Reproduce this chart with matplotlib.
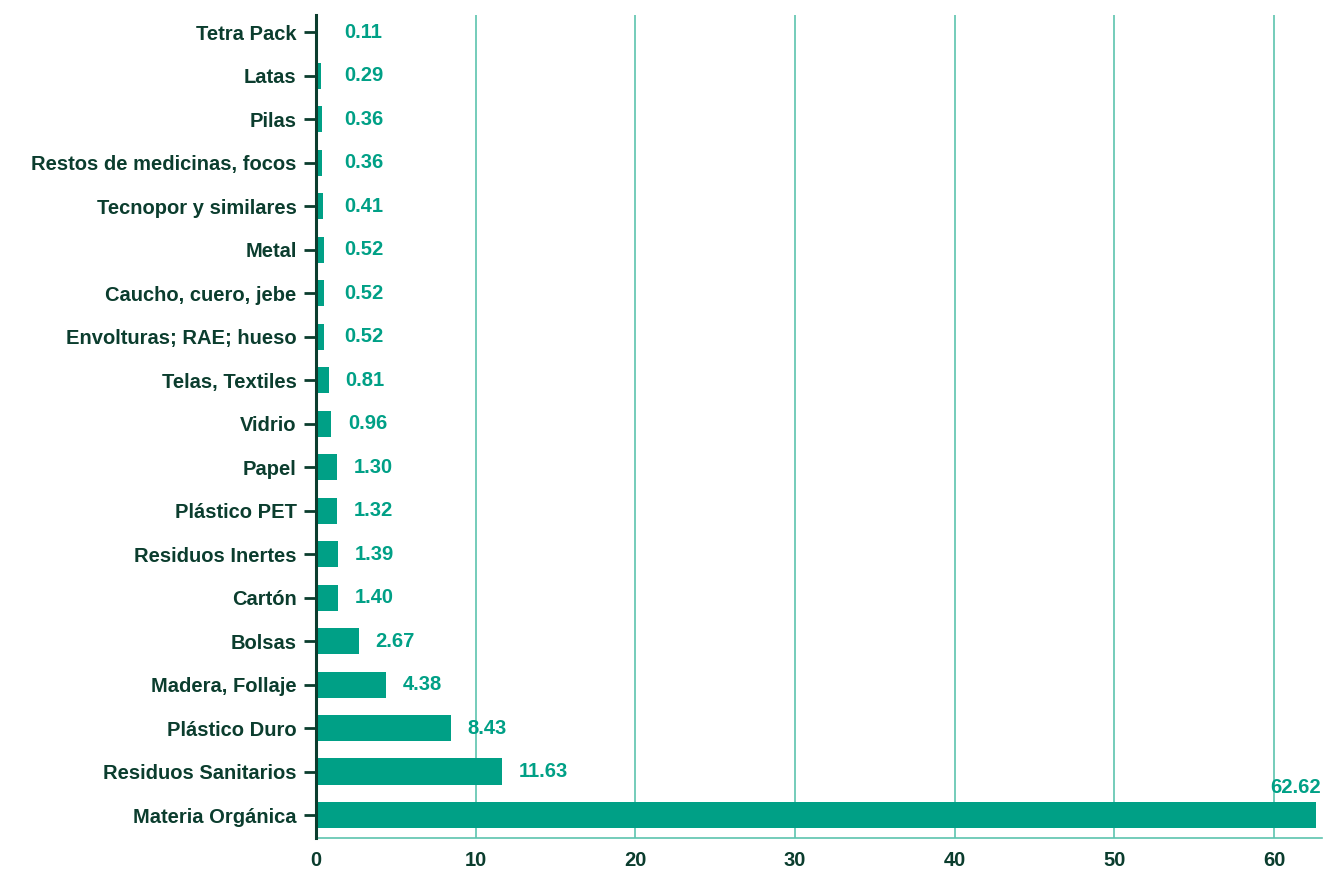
import matplotlib
matplotlib.use("Agg")
import matplotlib.pyplot as plt
import numpy as np

# datos (de abajo hacia arriba)
categorias = [
    "Materia Orgánica", "Residuos Sanitarios", "Plástico Duro", "Madera, Follaje",
    "Bolsas", "Cartón", "Residuos Inertes", "Plástico PET", "Papel", "Vidrio",
    "Telas, Textiles", "Envolturas; RAE; hueso", "Caucho, cuero, jebe", "Metal",
    "Tecnopor y similares", "Restos de medicinas, focos", "Pilas", "Latas", "Tetra Pack",
]
valores = [62.62, 11.63, 8.43, 4.38, 2.67, 1.40, 1.39, 1.32, 1.30, 0.96,
           0.81, 0.52, 0.52, 0.52, 0.41, 0.36, 0.36, 0.29, 0.11]
xticks = [0, 10, 20, 30, 40, 50, 60]

BAR = "#00a086"
DARK = "#0b3d2e"
GRID = "#5cc4ae"
FS = 14.5

plt.rcParams["font.family"] = ["Liberation Sans", "DejaVu Sans"]

fig = plt.figure(figsize=(13.28, 8.73), dpi=100)
ax = fig.add_axes([0.238, 0.04, 0.7575, 0.943])

y = np.arange(len(categorias))
ax.barh(y, valores, height=0.6, color=BAR, zorder=3)

ax.set_xlim(0, 63.0)
ax.set_ylim(-0.53, len(categorias) - 0.6)
ax.set_xticks(xticks)
ax.set_yticks(y)
ax.set_yticklabels(categorias, fontsize=FS, fontweight="bold", color=DARK)
ax.set_xticklabels([str(t) for t in xticks], fontsize=FS, fontweight="bold", color=DARK)
ax.tick_params(axis="y", length=9, width=2, color=DARK, pad=5)
ax.tick_params(axis="x", length=0, pad=9)

ax.grid(axis="x", color=GRID, linewidth=1.2, zorder=0)
for s in ["top", "right"]:
    ax.spines[s].set_visible(False)
ax.spines["left"].set_color(DARK)
ax.spines["left"].set_linewidth(2.2)
ax.spines["left"].set_zorder(4)
ax.spines["bottom"].set_color(GRID)
ax.spines["bottom"].set_linewidth(1.2)

for yi, v in zip(y, valores):
    if v > 60:
        ax.annotate(f"{v:.2f}", (ax.get_xlim()[1], yi), xytext=(-1, 20),
                    textcoords="offset points", ha="right", va="center",
                    fontsize=FS, fontweight="bold", color=BAR)
    else:
        ax.annotate(f"{v:.2f}", (max(v, 0.7), yi), xytext=(12, 0),
                    textcoords="offset points", ha="left", va="center",
                    fontsize=FS, fontweight="bold", color=BAR)

fig.savefig("out.png", dpi=100)
